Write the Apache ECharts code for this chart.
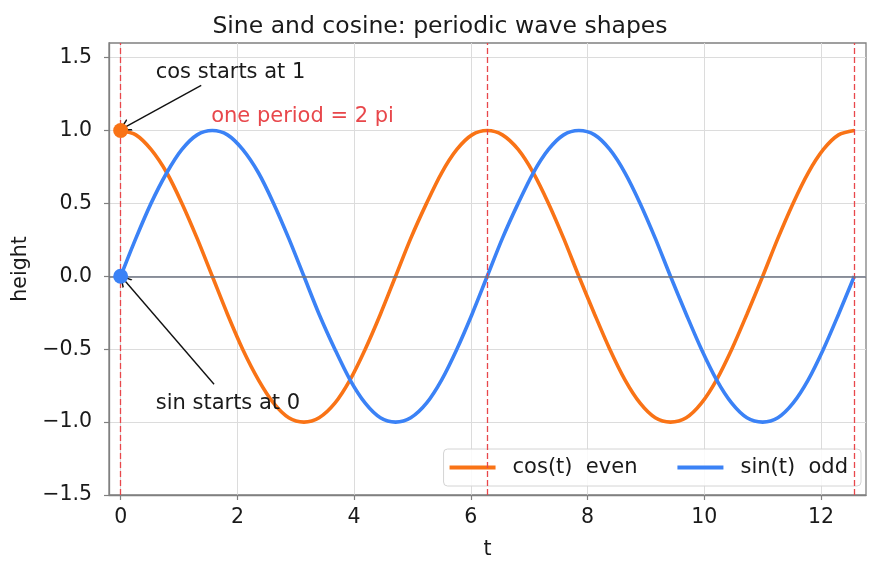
<!DOCTYPE html>
<html>
<head>
<meta charset="utf-8">
<script src="https://cdn.jsdelivr.net/npm/echarts@6/dist/echarts.min.js"></script>
<style>
  html, body { margin: 0; padding: 0; background: #fff; }
  #chart { width: 880px; height: 571px; }
</style>
</head>
<body>
<div id="chart"></div>
<script>
// samples (step ~ pi/12)
var tValues = [0, 0.26, 0.52, 0.79, 1.05, 1.31, 1.57, 1.83, 2.09, 2.36, 2.62, 2.88,
               3.14, 3.40, 3.67, 3.93, 4.19, 4.45, 4.71, 4.97, 5.24, 5.50, 5.76, 6.02,
               6.28, 6.54, 6.81, 7.07, 7.33, 7.59, 7.85, 8.12, 8.38, 8.64, 8.90, 9.16,
               9.42, 9.69, 9.95, 10.21, 10.47, 10.73, 11.00, 11.26, 11.52, 11.78, 12.04, 12.30, 12.57];
var cosValues = [1, 0.97, 0.87, 0.71, 0.5, 0.26, 0, -0.26, -0.5, -0.71, -0.87, -0.97,
                 -1, -0.97, -0.87, -0.71, -0.5, -0.26, 0, 0.26, 0.5, 0.71, 0.87, 0.97,
                 1, 0.97, 0.87, 0.71, 0.5, 0.26, 0, -0.26, -0.5, -0.71, -0.87, -0.97,
                 -1, -0.97, -0.87, -0.71, -0.5, -0.26, 0, 0.26, 0.5, 0.71, 0.87, 0.97, 1];
var sinValues = [0, 0.26, 0.5, 0.71, 0.87, 0.97, 1, 0.97, 0.87, 0.71, 0.5, 0.26,
                 0, -0.26, -0.5, -0.71, -0.87, -0.97, -1, -0.97, -0.87, -0.71, -0.5, -0.26,
                 0, 0.26, 0.5, 0.71, 0.87, 0.97, 1, 0.97, 0.87, 0.71, 0.5, 0.26,
                 0, -0.26, -0.5, -0.71, -0.87, -0.97, -1, -0.97, -0.87, -0.71, -0.5, -0.26, 0];
var periodMarks = [0, 6.283, 12.566];
var xTicks = [0, 2, 4, 6, 8, 10, 12];
var yTicks = [-1.5, -1.0, -0.5, 0.0, 0.5, 1.0, 1.5];
var cosName = 'cos(t)  even';
var sinName = 'sin(t)  odd';

var cosColor = '#f97316';
var sinColor = '#3b82f6';
var red = '#e8474b';
var FONT = 'DejaVu Sans';
var chevron = 'path://M5,0 L10,10 L8.7,10 L5,2.6 L1.3,10 L0,10 Z';

function zip(a, b) {
  var out = [];
  for (var i = 0; i < a.length; i++) out.push([a[i], b[i]]);
  return out;
}

var myChart = echarts.init(document.getElementById('chart'));

var option = {
  animation: false,
  backgroundColor: '#fff',
  textStyle: { fontFamily: FONT },
  title: {
    text: 'Sine and cosine: periodic wave shapes',
    left: 'center',
    top: 10,
    textStyle: { fontFamily: FONT, fontSize: 23.5, fontWeight: 'normal', color: '#1a1a1a' }
  },
  grid: {
    left: 109, right: 14, top: 43, bottom: 76,
    show: true, borderColor: '#808080', borderWidth: 1.3, backgroundColor: 'transparent'
  },
  legend: {
    data: [cosName, sinName],
    right: 19, bottom: 85,
    orient: 'horizontal',
    itemWidth: 46, itemHeight: 4,
    itemGap: 40,
    icon: 'rect',
    padding: [8, 13, 8, 6],
    borderColor: '#d4d4d4', borderWidth: 1, borderRadius: 4,
    backgroundColor: 'rgba(255,255,255,0.85)',
    textStyle: { fontFamily: FONT, fontSize: 21, color: '#1a1a1a', padding: [0, 0, 0, 12] }
  },
  xAxis: {
    type: 'value',
    min: -0.2, max: 12.77,
    minInterval: 2, maxInterval: 2,
    name: 't',
    nameLocation: 'middle',
    nameGap: 44,
    nameTextStyle: { fontFamily: FONT, fontSize: 20.5, color: '#1a1a1a' },
    axisLine: { show: true, onZero: false, lineStyle: { color: '#808080', width: 1.3 } },
    axisTick: { show: true, customValues: xTicks, length: 5, lineStyle: { color: '#808080', width: 1.2 } },
    axisLabel: { customValues: xTicks, margin: 12, fontFamily: FONT, fontSize: 20.5, color: '#1a1a1a' },
    splitLine: { show: true, lineStyle: { color: '#dcdcdc', width: 1 } }
  },
  yAxis: {
    type: 'value',
    min: -1.5, max: 1.6,
    interval: 0.5,
    name: 'height',
    nameLocation: 'middle',
    nameGap: 73,
    nameTextStyle: { fontFamily: FONT, fontSize: 20.5, color: '#1a1a1a' },
    axisLine: { show: true, onZero: false, lineStyle: { color: '#808080', width: 1.3 } },
    axisTick: { show: true, customValues: yTicks, length: 5, lineStyle: { color: '#808080', width: 1.2 } },
    axisLabel: {
      customValues: yTicks, margin: 17, fontFamily: FONT, fontSize: 20.5, color: '#1a1a1a',
      formatter: function (v) { return v.toFixed(1).replace('-', '\u2212'); }
    },
    splitLine: { show: true, lineStyle: { color: '#dcdcdc', width: 1 } }
  },
  series: [
    {
      name: 'guides',
      type: 'line',
      data: [],
      silent: true,
      markLine: {
        silent: true,
        symbol: 'none',
        label: { show: false },
        animation: false,
        data: periodMarks.map(function (x) {
          return { xAxis: x, lineStyle: { color: red, type: [6, 3], width: 1.3 } };
        }).concat([
          { yAxis: 0, lineStyle: { color: '#6b7280', type: 'solid', width: 1.5 } }
        ])
      }
    },
    {
      name: cosName,
      type: 'line',
      data: zip(tValues, cosValues),
      smooth: 0.3,
      showSymbol: false,
      color: cosColor,
      lineStyle: { color: cosColor, width: 3.6 },
      z: 3
    },
    {
      name: sinName,
      type: 'line',
      data: zip(tValues, sinValues),
      smooth: 0.3,
      showSymbol: false,
      color: sinColor,
      lineStyle: { color: sinColor, width: 3.6 },
      z: 4
    },
    {
      name: 'start points',
      type: 'scatter',
      symbolSize: 15,
      z: 6,
      itemStyle: { opacity: 1 },
      data: [
        { value: [tValues[0], cosValues[0]], itemStyle: { color: cosColor, opacity: 1 } },
        { value: [tValues[0], sinValues[0]], itemStyle: { color: sinColor, opacity: 1 } }
      ]
    },
    {
      name: 'arrows',
      type: 'line',
      data: [],
      silent: true,
      z: 7,
      markLine: {
        silent: true,
        animation: false,
        symbol: ['none', chevron],
        symbolSize: [13, 12],
        label: { show: false },
        lineStyle: { color: '#111', width: 1.4, type: 'solid', opacity: 1 },
        data: [
          [{ coord: [1.38, 1.31] }, { coord: [0.06, 1.02] }],
          [{ coord: [1.6, -0.74] }, { coord: [0.05, -0.02] }]
        ]
      }
    },
    {
      name: 'notes',
      type: 'scatter',
      symbolSize: 0,
      silent: true,
      z: 8,
      itemStyle: { opacity: 1 },
      label: {
        show: true,
        position: [0, 0],
        align: 'left',
        verticalAlign: 'middle',
        fontFamily: FONT,
        fontSize: 21,
        color: '#1a1a1a',
        opacity: 1,
        formatter: function (p) { return p.data.text; }
      },
      data: [
        { value: [0.6, 1.4], text: 'cos starts at 1' },
        { value: [0.6, -0.87], text: 'sin starts at 0' },
        { value: [1.55, 1.095], text: 'one period = 2 pi', label: { color: red } }
      ]
    }
  ]
};

myChart.setOption(option);
</script>
</body>
</html>
